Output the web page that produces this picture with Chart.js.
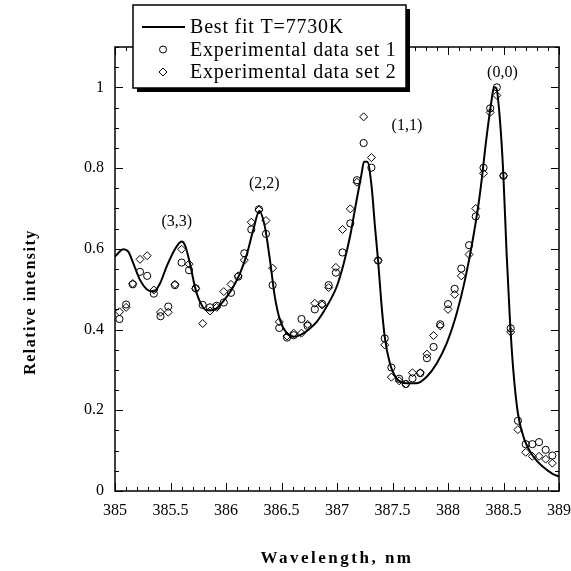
<!DOCTYPE html>
<html>
<head>
<meta charset="utf-8">
<script src="https://cdn.jsdelivr.net/npm/chart.js@4.4.1/dist/chart.umd.min.js"></script>
<style>
  html, body { margin: 0; padding: 0; background: #fff; }
  #wrap { width: 571px; height: 571px; }
</style>
</head>
<body>
<div id="wrap"><canvas id="spectrum" width="571" height="571"></canvas></div>
<script>
// measured points, both sets share the same wavelengths
const wavelength = [385.04, 385.10, 385.16, 385.225, 385.29, 385.35, 385.41, 385.48, 385.54, 385.60,
  385.667, 385.727, 385.79, 385.856, 385.916, 385.98, 386.045, 386.11, 386.165, 386.228,
  386.297, 386.36, 386.42, 386.48, 386.55, 386.61, 386.68, 386.735, 386.80, 386.865,
  386.925, 386.99, 387.05, 387.12, 387.18, 387.24, 387.31, 387.37, 387.43, 387.49,
  387.56, 387.62, 387.68, 387.75, 387.81, 387.87, 387.93, 388.00, 388.06, 388.12,
  388.19, 388.25, 388.32, 388.38, 388.44, 388.50, 388.565, 388.63, 388.70, 388.76,
  388.82, 388.88, 388.94];
const set1 = [0.426, 0.462, 0.512, 0.543, 0.533, 0.489, 0.433, 0.457, 0.510, 0.566,
  0.547, 0.502, 0.461, 0.455, 0.459, 0.467, 0.491, 0.531, 0.589, 0.648,
  0.698, 0.637, 0.510, 0.404, 0.380, 0.386, 0.426, 0.409, 0.450, 0.464,
  0.510, 0.541, 0.591, 0.663, 0.770, 0.862, 0.801, 0.571, 0.378, 0.306,
  0.278, 0.265, 0.279, 0.292, 0.329, 0.357, 0.413, 0.463, 0.501, 0.551,
  0.609, 0.680, 0.801, 0.948, 1.000, 0.781, 0.403, 0.174, 0.116, 0.116,
  0.121, 0.102, 0.088];
const set2 = [0.444, 0.455, 0.514, 0.574, 0.583, 0.498, 0.443, 0.443, 0.512, 0.599,
  0.562, 0.502, 0.415, 0.446, 0.455, 0.494, 0.512, 0.533, 0.572, 0.666,
  0.696, 0.670, 0.552, 0.419, 0.384, 0.391, 0.391, 0.413, 0.465, 0.461,
  0.504, 0.554, 0.648, 0.699, 0.765, 0.927, 0.826, 0.571, 0.362, 0.282,
  0.273, 0.265, 0.293, 0.293, 0.339, 0.385, 0.409, 0.450, 0.487, 0.533,
  0.586, 0.700, 0.787, 0.938, 0.980, 0.781, 0.394, 0.152, 0.096, 0.086,
  0.086, 0.079, 0.069];

// best fit curve
const fitWavelength = [385.0, 385.075, 385.12, 385.165, 385.225, 385.285, 385.35, 385.405, 385.465, 385.54,
  385.60, 385.63, 385.675, 385.72, 385.765, 385.826, 385.886, 385.946, 386.006, 386.066,
  386.126, 386.186, 386.246, 386.30, 386.35, 386.396, 386.44, 386.486, 386.547, 386.607,
  386.667, 386.74, 386.817, 386.907, 386.997, 387.057, 387.117, 387.177, 387.222, 387.243,
  387.273, 387.312, 387.342, 387.37, 387.40, 387.43, 387.477, 387.537, 387.628, 387.718,
  387.808, 387.898, 387.988, 388.078, 388.153, 388.228, 388.288, 388.348, 388.393, 388.414,
  388.435, 388.468, 388.498, 388.528, 388.558, 388.588, 388.63, 388.69, 388.77, 388.856,
  388.946, 389.0];
const fitIntensity = [0.581, 0.599, 0.593, 0.564, 0.523, 0.500, 0.494, 0.514, 0.556, 0.599,
  0.618, 0.609, 0.564, 0.506, 0.469, 0.448, 0.448, 0.461, 0.481, 0.506,
  0.539, 0.585, 0.647, 0.694, 0.655, 0.572, 0.481, 0.424, 0.391, 0.382,
  0.386, 0.399, 0.419, 0.457, 0.506, 0.560, 0.630, 0.721, 0.787, 0.816,
  0.816, 0.754, 0.655, 0.571, 0.465, 0.382, 0.316, 0.279, 0.267, 0.267,
  0.283, 0.316, 0.366, 0.440, 0.523, 0.630, 0.737, 0.878, 0.969, 1.000,
  0.998, 0.919, 0.787, 0.589, 0.424, 0.300, 0.192, 0.126, 0.085, 0.060,
  0.042, 0.036];

const xTicks = [385, 385.5, 386, 386.5, 387, 387.5, 388, 388.5, 389];
const yTicks = [0, 0.2, 0.4, 0.6, 0.8, 1];

const peakLabels = ["(3,3)", "(2,2)", "(1,1)", "(0,0)"];
const peakX = [385.556, 386.345, 387.63, 388.49];
const peakY = [0.666, 0.760, 0.904, 1.036];

const serif = "'Liberation Serif', 'Times New Roman', serif";

function toPoints(xs, ys) {
  return xs.map((x, i) => ({ x: x, y: ys[i] }));
}

// box, inward ticks, peak labels, axis titles and the shadowed legend
const framePlugin = {
  id: "frame",
  afterDraw(chart) {
    const ctx = chart.ctx;
    const a = chart.chartArea;
    const xs = chart.scales.x;
    const ys = chart.scales.y;
    ctx.save();

    ctx.strokeStyle = "#000";
    ctx.lineWidth = 1.5;
    ctx.strokeRect(a.left, a.top, a.right - a.left, a.bottom - a.top);

    ctx.lineWidth = 1;
    ctx.beginPath();
    for (let i = 0; i <= 40; i++) {
      const v = 385 + i * 0.1;
      const px = Math.round(xs.getPixelForValue(v)) + 0.5;
      const len = i % 5 === 0 ? 8 : 4;
      ctx.moveTo(px, a.bottom); ctx.lineTo(px, a.bottom - len);
      ctx.moveTo(px, a.top); ctx.lineTo(px, a.top + len);
    }
    for (let i = 0; i <= 22; i++) {
      const v = i * 0.05;
      const py = Math.round(ys.getPixelForValue(v)) + 0.5;
      const len = i % 4 === 0 ? 8 : 4;
      ctx.moveTo(a.left, py); ctx.lineTo(a.left + len, py);
      ctx.moveTo(a.right, py); ctx.lineTo(a.right - len, py);
    }
    ctx.stroke();

    ctx.fillStyle = "#000";
    ctx.font = "16px " + serif;
    ctx.textAlign = "center";
    ctx.textBaseline = "middle";
    peakLabels.forEach((t, i) => {
      ctx.fillText(t, xs.getPixelForValue(peakX[i]), ys.getPixelForValue(peakY[i]));
    });

    ctx.font = "bold 17px " + serif;
    ctx.letterSpacing = "2.5px";
    ctx.textBaseline = "alphabetic";
    ctx.fillText("Wavelength, nm", (a.left + a.right) / 2, 563);
    ctx.font = "bold 16px " + serif;
    ctx.letterSpacing = "1.5px";
    ctx.save();
    ctx.translate(35, 302);
    ctx.rotate(-Math.PI / 2);
    ctx.fillText("Relative intensity", 0, 0);
    ctx.restore();
    ctx.letterSpacing = "0px";

    // legend
    const bx = 133, by = 5, bw = 273, bh = 83;
    ctx.fillStyle = "#000";
    ctx.fillRect(bx + 4, by + 4, bw, bh);
    ctx.fillStyle = "#fff";
    ctx.fillRect(bx, by, bw, bh);
    ctx.lineWidth = 1.5;
    ctx.strokeRect(bx, by, bw, bh);

    const rows = [27, 49.5, 72];
    const sets = chart.data.datasets;
    ctx.lineWidth = 2;
    ctx.beginPath();
    ctx.moveTo(142, rows[0]); ctx.lineTo(185, rows[0]);
    ctx.stroke();
    ctx.lineWidth = 1;
    ctx.beginPath();
    ctx.arc(163, rows[1], 3.5, 0, Math.PI * 2);
    ctx.stroke();
    ctx.beginPath();
    ctx.moveTo(163, rows[2] - 4); ctx.lineTo(167, rows[2]);
    ctx.lineTo(163, rows[2] + 4); ctx.lineTo(159, rows[2]);
    ctx.closePath();
    ctx.stroke();

    ctx.fillStyle = "#000";
    ctx.font = "20px " + serif;
    ctx.letterSpacing = "0.8px";
    ctx.textAlign = "left";
    ctx.textBaseline = "middle";
    rows.forEach((ry, i) => ctx.fillText(sets[i].label, 190, ry + 1));
    ctx.letterSpacing = "0px";
    ctx.restore();
  }
};

new Chart(document.getElementById("spectrum"), {
  type: "scatter",
  data: {
    datasets: [
      {
        label: "Best fit T=7730K",
        type: "line",
        data: toPoints(fitWavelength, fitIntensity),
        borderColor: "#000",
        borderWidth: 2,
        pointRadius: 0,
        cubicInterpolationMode: "monotone",
        fill: false
      },
      {
        label: "Experimental data set 1",
        data: toPoints(wavelength, set1),
        pointStyle: "circle",
        pointRadius: 3.6,
        borderColor: "#000",
        borderWidth: 1,
        backgroundColor: "rgba(0,0,0,0)"
      },
      {
        label: "Experimental data set 2",
        data: toPoints(wavelength, set2),
        pointStyle: "rectRot",
        pointRadius: 4,
        borderColor: "#000",
        borderWidth: 1,
        backgroundColor: "rgba(0,0,0,0)"
      }
    ]
  },
  options: {
    responsive: false,
    animation: false,
    layout: { padding: { top: 47, right: 12, left: 0, bottom: 0 } },
    plugins: {
      legend: { display: false },
      tooltip: { enabled: false }
    },
    scales: {
      x: {
        type: "linear",
        min: 385,
        max: 389,
        grid: { display: false, drawTicks: false },
        border: { display: false },
        afterBuildTicks: s => { s.ticks = xTicks.map(v => ({ value: v })); },
        afterFit: s => { s.height = 80; s.paddingLeft = 0; s.paddingRight = 0; },
        ticks: {
          color: "#000",
          padding: 10,
          maxRotation: 0,
          font: { family: serif, size: 16 },
          callback: v => String(v)
        }
      },
      y: {
        min: 0,
        max: 1.1,
        grid: { display: false, drawTicks: false },
        border: { display: false },
        afterBuildTicks: s => { s.ticks = yTicks.map(v => ({ value: v })); },
        afterFit: s => { s.width = 115; s.paddingTop = 0; s.paddingBottom = 0; },
        ticks: {
          color: "#000",
          padding: 11,
          font: { family: serif, size: 16 },
          callback: v => String(+v.toFixed(2))
        }
      }
    }
  },
  plugins: [framePlugin]
});
</script>
</body>
</html>
